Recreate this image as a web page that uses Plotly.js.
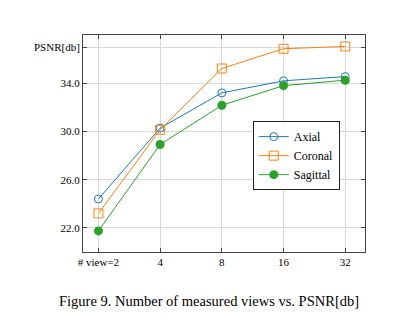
<!DOCTYPE html>
<html>
<head>
<meta charset="utf-8">
<script src="https://cdn.plot.ly/plotly-3.0.1.min.js"></script>
<style>html,body{margin:0;padding:0;background:#fff;}#chart{width:398px;height:330px;}</style>
</head>
<body>
<div id="chart"></div>
<script>
const views = ["# view=2", "4", "8", "16", "32"];
const axial = [24.4, 30.28, 33.2, 34.2, 34.55];
const coronal = [23.2, 30.14, 35.22, 36.86, 37.05];
const sagittal = [21.75, 28.92, 32.17, 33.8, 34.25];
const yTickVals = [22, 26, 30, 34, 37];
const yTickText = ["22.0", "26.0", "30.0", "34.0", "PSNR[db]"];

const xIdx = views.map((v, i) => i);
const serif = "Liberation Serif, DejaVu Serif, serif";

const traces = [
  {x: xIdx, y: axial, name: "Axial", type: "scatter", mode: "lines+markers",
   line: {color: "#1f77b4", width: 1},
   marker: {symbol: "circle-open", size: 8, color: "#1f77b4", line: {width: 1}}},
  {x: xIdx, y: coronal, name: "Coronal", type: "scatter", mode: "lines+markers",
   line: {color: "#ff7f0e", width: 1},
   marker: {symbol: "square-open", size: 9, color: "#ff7f0e", line: {width: 1}}},
  {x: xIdx, y: sagittal, name: "Sagittal", type: "scatter", mode: "lines+markers",
   line: {color: "#2ca02c", width: 1},
   marker: {symbol: "circle", size: 9, color: "#2ca02c"}}
];

const layout = {
  width: 398, height: 330,
  margin: {l: 83, r: 33, t: 35, b: 78},
  paper_bgcolor: "#fff", plot_bgcolor: "#fff",
  font: {family: serif, size: 11, color: "#000"},
  showlegend: true,
  legend: {x: 0.602, y: 0.603, xanchor: "left", yanchor: "top",
    bordercolor: "#222", borderwidth: 1, bgcolor: "#fff",
    font: {family: serif, size: 12}, tracegroupgap: 0},
  xaxis: {range: [-0.25, 4.32], tickvals: xIdx, ticktext: views,
    showgrid: true, gridcolor: "#d9d9d9", gridwidth: 1, zeroline: false,
    showline: true, linecolor: "#444", linewidth: 1, mirror: "ticks",
    ticks: "inside", ticklen: 4, tickcolor: "#444",
    tickfont: {family: serif, size: 11}},
  yaxis: {range: [20, 38], tickvals: yTickVals, ticktext: yTickText,
    showgrid: true, gridcolor: "#d9d9d9", gridwidth: 1, zeroline: false,
    showline: true, linecolor: "#444", linewidth: 1, mirror: "ticks",
    ticks: "inside", ticklen: 4, tickcolor: "#444",
    tickfont: {family: serif, size: 11}},
  annotations: [{
    text: "Figure 9. Number of measured views vs. PSNR[db]",
    xref: "paper", yref: "paper", x: 0.447, y: -0.18, xanchor: "center", yanchor: "top",
    showarrow: false, font: {family: serif, size: 14.5, color: "#000"}
  }]
};

Plotly.newPlot("chart", traces, layout, {displayModeBar: false, staticPlot: true});
</script>
</body>
</html>
